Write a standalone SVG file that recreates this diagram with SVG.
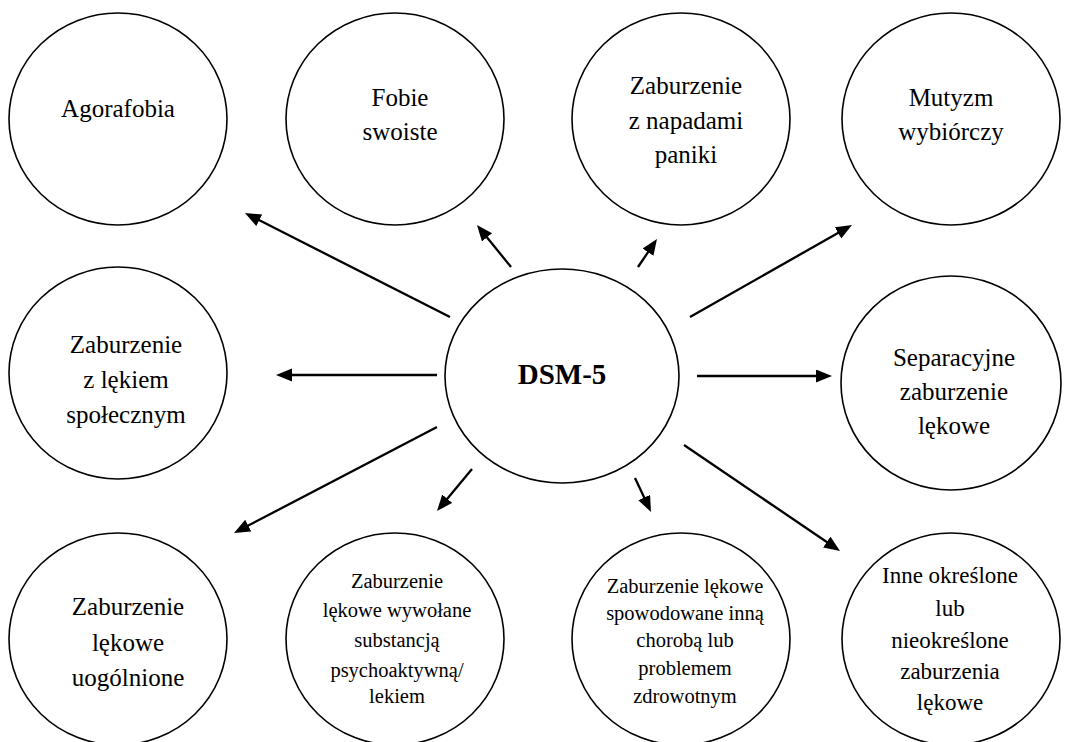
<svg xmlns="http://www.w3.org/2000/svg" width="1071" height="742" viewBox="0 0 1071 742">
<style>
.n{fill:#fff;stroke:#000;stroke-width:1.6}
.t{font-family:"Liberation Serif","Times New Roman",serif;font-size:25px;fill:#000;text-anchor:middle}
.s{font-size:20.5px}
.m{font-size:23px}
.b{font-weight:bold;font-size:29px}
.c line{stroke:#000;stroke-width:2.3;marker-end:url(#ah)}
</style>
<defs>
<marker id="ah" markerUnits="userSpaceOnUse" markerWidth="16" markerHeight="14" refX="8" refY="6.5" orient="auto">
<path d="M0,0 L16,6.5 L0,13 z" fill="#000"/>
</marker>
</defs>
<rect width="1071" height="742" fill="#fff"/>
<g id="n-agorafobia"><ellipse class="n" cx="118" cy="119" rx="109" ry="106"/><text class="t" x="118" y="117">Agorafobia</text></g>
<g id="n-fobie"><ellipse class="n" cx="395" cy="119" rx="109" ry="106"/><text class="t" x="400" y="106">Fobie</text><text class="t" x="400" y="140">swoiste</text></g>
<g id="n-panika"><ellipse class="n" cx="681" cy="119" rx="109" ry="106"/><text class="t" x="686" y="94">Zaburzenie</text><text class="t" x="686" y="129">z napadami</text><text class="t" x="686" y="163">paniki</text></g>
<g id="n-mutyzm"><ellipse class="n" cx="951" cy="119" rx="109" ry="106"/><text class="t" x="951" y="106">Mutyzm</text><text class="t" x="951" y="140">wybiórczy</text></g>
<g id="n-spoleczny"><ellipse class="n" cx="118" cy="373" rx="109" ry="106"/><text class="t" x="126" y="353">Zaburzenie</text><text class="t" x="126" y="388">z lękiem</text><text class="t" x="126" y="423">społecznym</text></g>
<g id="n-dsm"><ellipse class="n" cx="562" cy="376" rx="117" ry="107"/><text class="t b" x="562" y="384">DSM-5</text></g>
<g id="n-separacyjne"><ellipse class="n" cx="951" cy="383" rx="110" ry="107"/><text class="t" x="954" y="366">Separacyjne</text><text class="t" x="954" y="400">zaburzenie</text><text class="t" x="954" y="434">lękowe</text></g>
<g id="n-uogolnione"><ellipse class="n" cx="118" cy="639" rx="109" ry="106"/><text class="t" x="128" y="615">Zaburzenie</text><text class="t" x="128" y="651">lękowe</text><text class="t" x="128" y="686">uogólnione</text></g>
<g id="n-substancja"><ellipse class="n" cx="395" cy="639" rx="109" ry="106"/><text class="t s" x="397" y="588">Zaburzenie</text><text class="t s" x="397" y="617">lękowe wywołane</text><text class="t s" x="397" y="647">substancją</text><text class="t s" x="397" y="677">psychoaktywną/</text><text class="t s" x="397" y="703">lekiem</text></g>
<g id="n-choroba"><ellipse class="n" cx="681" cy="639" rx="109" ry="106"/><text class="t s" x="685" y="593">Zaburzenie lękowe</text><text class="t s" x="685" y="620">spowodowane inną</text><text class="t s" x="685" y="647">chorobą lub</text><text class="t s" x="685" y="675">problemem</text><text class="t s" x="685" y="703">zdrowotnym</text></g>
<g id="n-inne"><ellipse class="n" cx="951" cy="639" rx="109" ry="106"/><text class="t m" x="950" y="583">Inne określone</text><text class="t m" x="950" y="616">lub</text><text class="t m" x="950" y="648">nieokreślone</text><text class="t m" x="950" y="679">zaburzenia</text><text class="t m" x="950" y="710">lękowe</text></g>
<g id="connectors" class="c">
<line x1="450" y1="317" x2="252.1" y2="216.6"/>
<line x1="511" y1="267" x2="482" y2="231.2"/>
<line x1="638" y1="267" x2="652.5" y2="245.6"/>
<line x1="690" y1="317" x2="845" y2="229"/>
<line x1="437" y1="375" x2="284" y2="375"/>
<line x1="697" y1="376" x2="824" y2="376"/>
<line x1="437" y1="427" x2="241.1" y2="529.3"/>
<line x1="472" y1="469" x2="442.1" y2="504.9"/>
<line x1="635" y1="478" x2="647.6" y2="504.8"/>
<line x1="684" y1="445" x2="833.4" y2="546.5"/>
</g>
</svg>
